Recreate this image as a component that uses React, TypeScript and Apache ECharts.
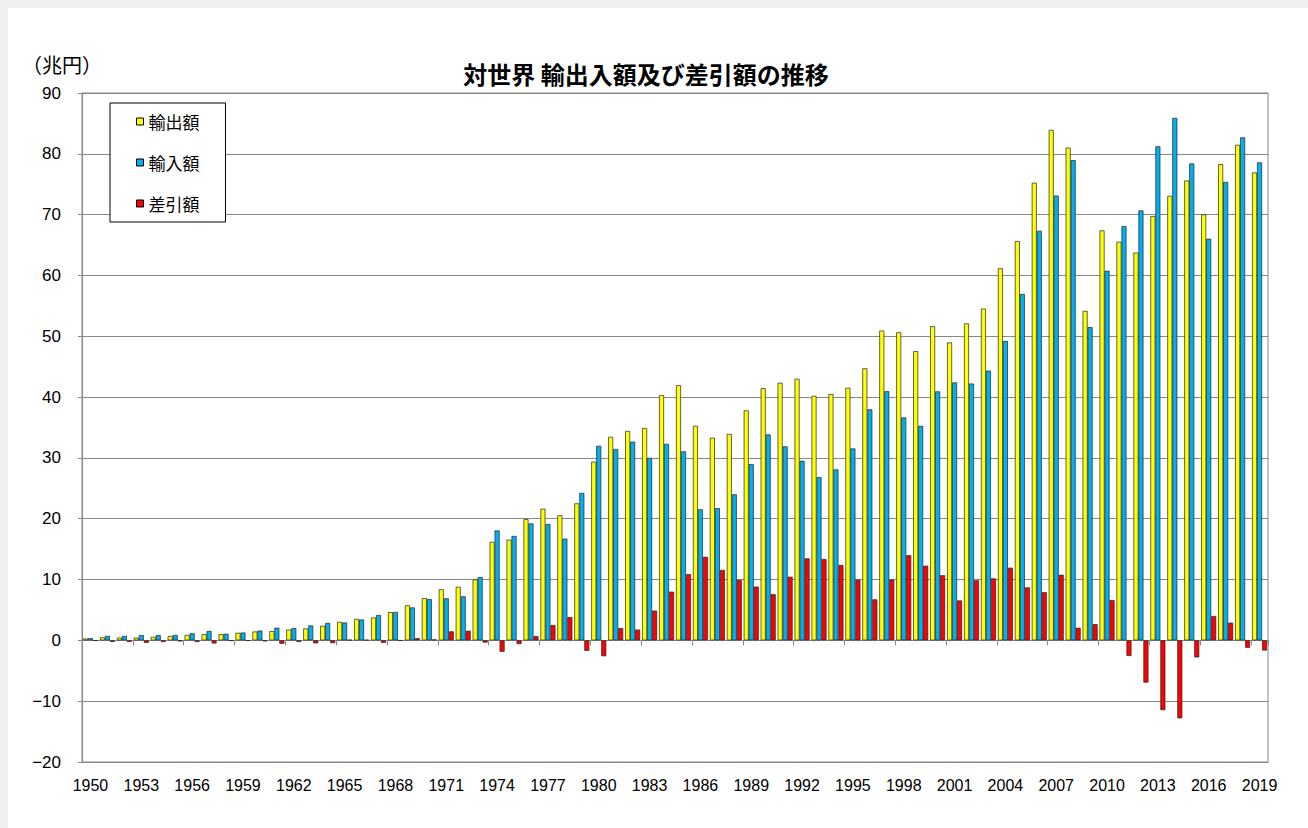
import React, { useEffect, useRef } from "react";
import * as echarts from "echarts";

const years: string[] = [];
for (let y = 1950; y <= 2019; y++) years.push(String(y));

const exportsVal = [
  0.30, 0.49, 0.46, 0.46, 0.59, 0.72, 0.90, 1.03, 1.03, 1.24,
  1.46, 1.52, 1.77, 1.96, 2.40, 3.04, 3.52, 3.76, 4.64, 5.76,
  6.95, 8.39, 8.81, 10.03, 16.21, 16.55, 19.93, 21.65, 20.56, 22.53,
  29.38, 33.47, 34.43, 34.91, 40.33, 41.96, 35.29, 33.32, 33.94, 37.82,
  41.46, 42.36, 43.01, 40.20, 40.50, 41.53, 44.73, 50.94, 50.65, 47.55,
  51.65, 48.98, 52.11, 54.55, 61.17, 65.66, 75.25, 83.93, 81.02, 54.17,
  67.40, 65.55, 63.75, 69.77, 73.09, 75.61, 70.04, 78.29, 81.48, 76.93,
];

const importsVal = [
  0.35, 0.74, 0.73, 0.87, 0.86, 0.89, 1.16, 1.54, 1.09, 1.29,
  1.61, 2.08, 2.02, 2.45, 2.86, 2.94, 3.43, 4.17, 4.67, 5.41,
  6.80, 6.91, 7.23, 10.40, 18.08, 17.17, 19.23, 19.13, 16.73, 24.25,
  31.99, 31.46, 32.66, 30.01, 32.32, 31.08, 21.55, 21.74, 24.01, 28.98,
  33.86, 31.90, 29.53, 26.83, 28.10, 31.55, 37.99, 40.96, 36.65, 35.27,
  40.94, 42.42, 42.23, 44.36, 49.22, 56.95, 67.34, 73.14, 78.95, 51.50,
  60.77, 68.11, 70.69, 81.24, 85.91, 78.41, 66.04, 75.38, 82.70, 78.60,
];

const balanceVal = [
  -0.05, -0.25, -0.27, -0.41, -0.27, -0.17, -0.26, -0.51, -0.06, -0.05,
  -0.15, -0.56, -0.25, -0.49, -0.46, 0.10, 0.09, -0.41, -0.03, 0.35,
  0.15, 1.48, 1.58, -0.37, -1.87, -0.62, 0.70, 2.52, 3.83, -1.72,
  -2.61, 2.01, 1.77, 4.90, 8.01, 10.88, 13.74, 11.58, 9.93, 8.84,
  7.60, 10.46, 13.48, 13.37, 12.40, 9.98, 6.74, 9.98, 14.00, 12.28,
  10.71, 6.56, 9.88, 10.19, 11.95, 8.71, 7.91, 10.79, 2.07, 2.67,
  6.63, -2.56, -6.94, -11.47, -12.82, -2.80, 4.00, 2.91, -1.22, -1.67,
];

const seriesNames = ["輸出額", "輸入額", "差引額"];
const seriesColors = ["#FFFF00", "#00B0F0", "#FF0000"];

const FONT = "'Liberation Sans', Arial, 'Noto Sans CJK JP', sans-serif";
const CJK = "'Noto Sans CJK JP', sans-serif";

export default function App() {
  const ref = useRef<HTMLDivElement>(null);
  useEffect(() => {
    document.body.style.background = "#f0f0f0";
    const chart = echarts.init(ref.current!, null, { renderer: "svg" });
    const dataSets = [exportsVal, importsVal, balanceVal];
    chart.setOption({
      animation: false,
      backgroundColor: "#ffffff",
      title: {
        text: "対世界 輸出入額及び差引額の推移",
        left: 633,
        top: 48,
        textAlign: "center",
        textStyle: { fontFamily: CJK, fontSize: 24, fontWeight: "bold", color: "#000" },
      },
      graphic: [
        {
          type: "text",
          left: 14,
          top: 46,
          style: { text: "（兆円）", fontSize: 20, fontFamily: CJK, fill: "#000" },
        },
      ],
      legend: {
        orient: "vertical",
        left: 102,
        top: 95,
        padding: [10, 26, 10, 26],
        itemGap: 24,
        itemWidth: 7,
        itemHeight: 7,
        backgroundColor: "#fff",
        borderColor: "#000",
        borderWidth: 1,
        icon: "rect",
        textStyle: { fontFamily: CJK, fontSize: 17, color: "#000" },
        itemStyle: { borderColor: "#000", borderWidth: 1 },
        data: seriesNames,
      },
      grid: {
        left: 74,
        top: 85,
        right: 40,
        bottom: 66,
        show: true,
        borderColor: "#888",
        borderWidth: 1,
      },
      xAxis: [
        {
          type: "category",
          data: years,
          axisLine: { onZero: false, lineStyle: { color: "#888" } },
          axisTick: { show: false },
          axisLabel: {
            interval: 2,
            margin: 15,
            fontFamily: FONT,
            fontSize: 16,
            color: "#000",
          },
        },
        {
          type: "category",
          data: years,
          position: "bottom",
          axisLine: { onZero: true, lineStyle: { color: "#888" } },
          axisTick: { show: true, length: 5, lineStyle: { color: "#888" } },
          axisLabel: { show: false },
        },
      ],
      yAxis: {
        type: "value",
        min: -20,
        max: 90,
        interval: 10,
        axisLine: { show: true, lineStyle: { color: "#888" } },
        axisTick: { show: true, length: 4, lineStyle: { color: "#888" } },
        splitLine: { lineStyle: { color: "#888", width: 1 } },
        axisLabel: {
          fontFamily: FONT,
          fontSize: 17,
          color: "#000",
          margin: 21,
          formatter: (v: number) => String(v).replace("-", "−"),
        },
      },
      series: seriesNames.map((name, i) => ({
        name,
        type: "bar",
        xAxisIndex: 0,
        data: dataSets[i],
        barWidth: 5,
        barGap: "0%",
        itemStyle: { color: seriesColors[i], borderColor: "#222", borderWidth: 0.7 },
      })),
    });
    return () => chart.dispose();
  }, []);
  return (
    <div
      ref={ref}
      style={{ position: "fixed", left: 8, top: 8, width: 1300, height: 820, background: "#fff" }}
    />
  );
}
